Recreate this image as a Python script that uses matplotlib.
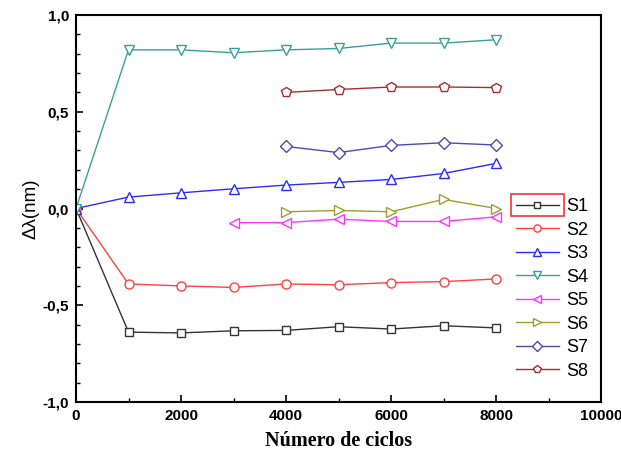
import matplotlib
matplotlib.use("Agg")
import matplotlib.pyplot as plt
from matplotlib.patches import Rectangle
from matplotlib.ticker import MultipleLocator, FuncFormatter

# data
x_full = [0, 1000, 2000, 3000, 4000, 5000, 6000, 7000, 8000]
s1 = [0, -0.639, -0.643, -0.632, -0.630, -0.611, -0.623, -0.606, -0.617]
s2 = [0, -0.390, -0.400, -0.408, -0.390, -0.394, -0.383, -0.378, -0.364]
s3 = [0, 0.059, 0.081, 0.102, 0.121, 0.135, 0.150, 0.181, 0.233]
s4 = [0, 0.820, 0.820, 0.805, 0.820, 0.827, 0.855, 0.855, 0.872]

x_s5 = [3000, 4000, 5000, 6000, 7000, 8000]
s5 = [-0.073, -0.073, -0.055, -0.067, -0.067, -0.043]

x_late = [4000, 5000, 6000, 7000, 8000]
s6 = [-0.017, -0.010, -0.017, 0.047, 0.000]
s7 = [0.321, 0.289, 0.326, 0.340, 0.328]
s8 = [0.600, 0.615, 0.628, 0.628, 0.625]

labels = ["S1", "S2", "S3", "S4", "S5", "S6", "S7", "S8"]
colors = ["#333333", "#ff4040", "#2b2bff", "#3a9e9a", "#ff33ff", "#9e9e2e", "#4b4bb0", "#a03030"]
markers = ["s", "o", "^", "v", "<", ">", "D", "p"]
sizes = [6, 6.5, 7.5, 7.5, 7.5, 7.5, 6, 7.5]

series = [(x_full, s1), (x_full, s2), (x_full, s3), (x_full, s4),
          (x_s5, s5), (x_late, s6), (x_late, s7), (x_late, s8)]

fig = plt.figure(figsize=(6.21, 4.58), dpi=100)
ax = fig.add_axes([0.1224, 0.1223, 0.8454, 0.8449])

for (xs, ys), lab, c, m, ms in zip(series, labels, colors, markers, sizes):
    ax.plot(xs, ys, color=c, marker=m, markersize=ms, markerfacecolor="white",
            markeredgecolor=c, markeredgewidth=1.0, linewidth=1.0, label=lab)

ax.set_xlim(0, 10000)
ax.set_ylim(-1.0, 1.0)
ax.xaxis.set_major_locator(MultipleLocator(2000))
ax.xaxis.set_minor_locator(MultipleLocator(1000))
ax.yaxis.set_major_locator(MultipleLocator(0.5))
ax.yaxis.set_minor_locator(MultipleLocator(0.1))
ax.yaxis.set_major_formatter(FuncFormatter(lambda v, p: f"{v:.1f}".replace(".", ",")))
ax.tick_params(which="both", direction="in", top=False, right=False)
ax.tick_params(which="major", length=5, width=1.2, pad=5)
ax.tick_params(which="minor", length=3, width=1.0)
for lab in ax.get_xticklabels() + ax.get_yticklabels():
    lab.set_fontfamily("Liberation Sans")
    lab.set_fontweight("bold")
    lab.set_fontsize(11)
for sp in ax.spines.values():
    sp.set_linewidth(1.5)

ax.set_xlabel("Número de ciclos", fontfamily="Liberation Serif", fontweight="bold",
              fontsize=14.5, labelpad=6)
ax.set_ylabel("Δλ(nm)", fontfamily="Liberation Sans", fontsize=13.5, labelpad=2)

leg = ax.legend(loc="upper left", bbox_to_anchor=(0.824, 0.545), frameon=False,
                prop={"family": "Liberation Sans", "size": 13}, handlelength=2.4,
                labelspacing=0.36, handletextpad=0.4, borderaxespad=0,
                markerscale=0.8)

# red selection box around the first legend handle
fig.canvas.draw()
bb = leg.legend_handles[0].get_window_extent(fig.canvas.get_renderer())
bb = bb.transformed(fig.transFigure.inverted())
yc = (bb.y0 + bb.y1) / 2
fig.patches.append(Rectangle((bb.x0 - 0.002, yc - 0.024), bb.width + 0.004, 0.048,
                             transform=fig.transFigure, fill=False, edgecolor="#ff3030",
                             linewidth=1.2))

fig.savefig("out.png", dpi=100)
